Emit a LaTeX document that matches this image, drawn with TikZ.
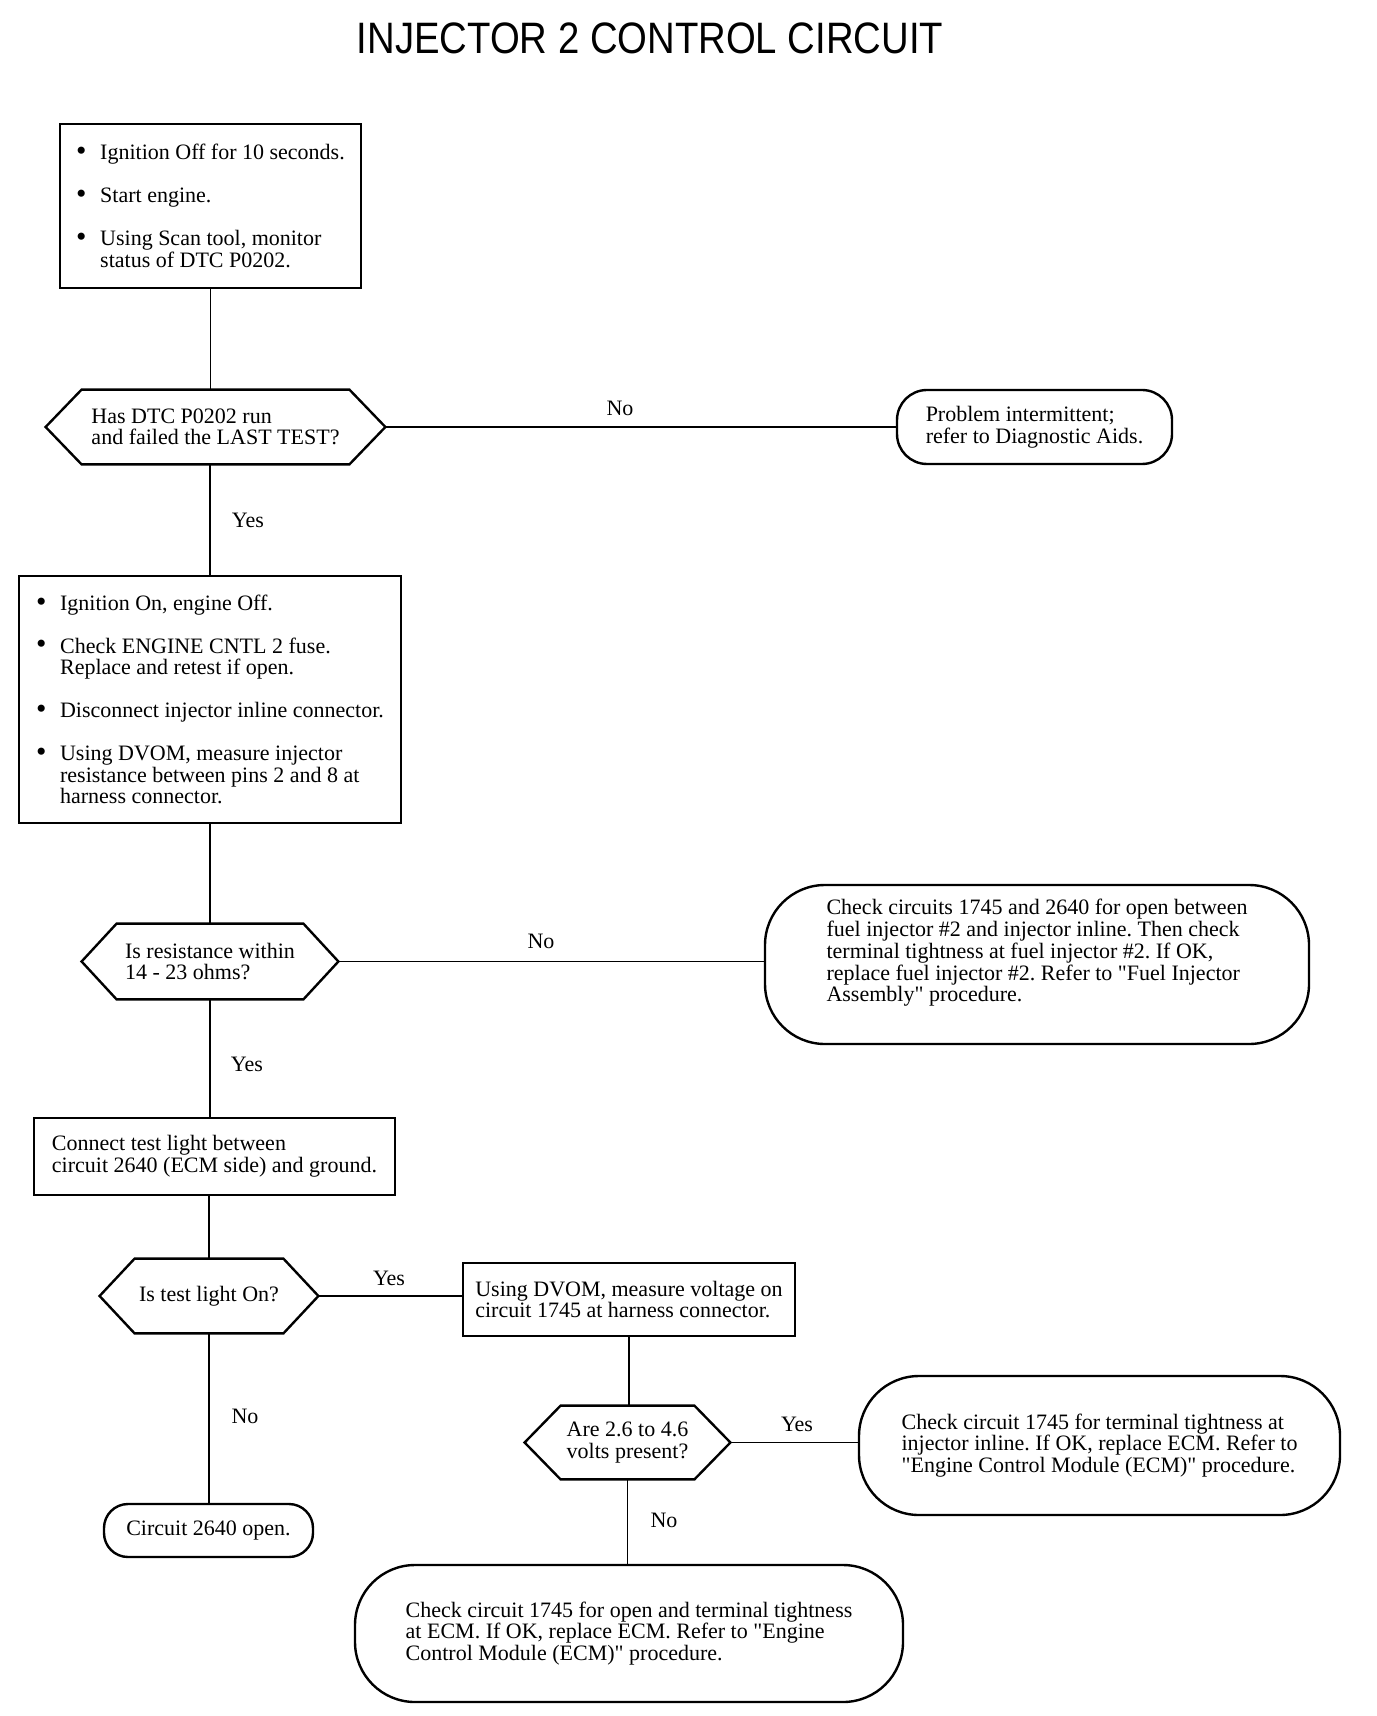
\documentclass[tikz,border=0pt]{standalone}
\usepackage{fontspec}
\usepackage{graphicx}
\setmainfont{Liberation Serif}[Ligatures=TeXOff]
\newfontfamily\titlefont{Liberation Sans}
\newcommand\mybul{\makebox[12pt][l]{\raisebox{-0.3pt}{\scalebox{1.35}{\textbullet}}}}
\newcommand\mybulind{\hspace*{12pt}}
\newcommand\hexshape[2]{\draw[shapeline] (#1.west) -- ([xshift=#2]#1.north west) -- ([xshift=-#2]#1.north east) -- (#1.east) -- ([xshift=-#2]#1.south east) -- ([xshift=#2]#1.south west) -- cycle;}
\frenchspacing
\begin{document}
\begin{tikzpicture}[x=0.5pt,y=-0.5pt,
  font=\fontsize{11}{10.8}\selectfont\frenchspacing,
  shapeline/.style={line width=1.2pt, line join=miter},
  box/.style={draw, shapeline, rectangle, inner sep=0pt, align=left},
  rbox/.style={box},
  dec/.style={rectangle, inner sep=0pt, align=left},
  conn/.style={line width=0.6pt},
  lab/.style={inner sep=0pt}]
\useasboundingbox (0,0) rectangle (1376,1716);
\fill[white] (0,0) rectangle (1376,1716);

\node[font=\titlefont\fontsize{22}{24}\selectfont] (title) at (650,38) {\scalebox{0.87}[1]{INJECTOR 2 CONTROL CIRCUIT}};

\node[box, minimum width=150.5pt, minimum height=82pt] (b1) at (210.5,206) {%
\mybul Ignition Off for 10 seconds.\\[10.6pt]
\mybul Start engine.\\[10.6pt]
\mybul Using Scan tool, monitor\\
\mybulind status of DTC P0202.};

\node[dec, minimum width=169.5pt, minimum height=37pt] (d1) at (215.5,427) {Has DTC P0202 run\\and failed the LAST TEST?};
\hexshape{d1}{18pt}

\node[rbox, rounded corners=15pt, minimum width=137.5pt, minimum height=37pt] (r1) at (1034.5,427) {Problem intermittent;\\refer to Diagnostic Aids.};

\node[box, minimum width=191pt, minimum height=123.5pt] (b2) at (210,699.5) {%
\mybul Ignition On, engine Off.\\[10.6pt]
\mybul Check ENGINE CNTL 2 fuse.\\
\mybulind Replace and retest if open.\\[10.6pt]
\mybul Disconnect injector inline connector.\\[10.6pt]
\mybul Using DVOM, measure injector\\
\mybulind resistance between pins 2 and 8 at\\
\mybulind harness connector.};

\node[dec, minimum width=128pt, minimum height=37.5pt] (d2) at (210,961.5) {Is resistance within\\14 - 23 ohms?};
\hexshape{d2}{17.5pt}

\node[rbox, rounded corners=30pt, minimum width=272pt, minimum height=79.5pt] (r2) at (1037,964.5) {\raisebox{5.5pt}[\height][\depth]{\begin{tabular}{@{}l@{}}Check circuits 1745 and 2640 for open between\\fuel injector \#2 and injector inline. Then check\\terminal tightness at fuel injector \#2. If OK,\\replace fuel injector \#2. Refer to "Fuel Injector\\Assembly" procedure.\end{tabular}}};

\node[box, minimum width=180.5pt, minimum height=38.5pt] (b3) at (214.5,1156.5) {Connect test light between\\circuit 2640 (ECM side) and ground.};

\node[dec, minimum width=109pt, minimum height=37pt] (d3) at (209,1296) {Is test light On?};
\hexshape{d3}{17.5pt}

\node[box, minimum width=166pt, minimum height=36.5pt] (b4) at (629,1299.5) {Using DVOM, measure voltage on\\circuit 1745 at harness connector.};

\node[rbox, rounded corners=12pt, minimum width=104.5pt, minimum height=26.5pt] (r5) at (208.5,1530.5) {Circuit 2640 open.};

\node[dec, minimum width=102.5pt, minimum height=36.5pt] (d4) at (627.5,1442.5) {Are 2.6 to 4.6\\volts present?};
\hexshape{d4}{18pt}

\node[rbox, rounded corners=30pt, minimum width=240.5pt, minimum height=69.5pt] (r3) at (1099.5,1445.5) {Check circuit 1745 for terminal tightness at\\injector inline. If OK, replace ECM. Refer to\\"Engine Control Module (ECM)" procedure.};

\node[rbox, rounded corners=30pt, minimum width=274pt, minimum height=68.5pt] (r4) at (629,1633.5) {Check circuit 1745 for open and terminal tightness\\at ECM. If OK, replace ECM. Refer to "Engine\\Control Module (ECM)" procedure.};

% connectors
\draw[conn] (b1.south) -- (b1.south |- d1.north);
\draw[conn] (d1.east) -- (r1.west);
\draw[conn] (b2.north |- d1.south) -- (b2.north);
\draw[conn] (b2.south) -- (d2.north);
\draw[conn] (d2.east) -- (d2.east -| r2.west);
\draw[conn] (d2.south) -- (d2.south |- b3.north);
\draw[conn] (d3.north |- b3.south) -- (d3.north);
\draw[conn] (d3.east) -- (d3.east -| b4.west);
\draw[conn] (d3.south) -- (d3.south |- r5.north);
\draw[conn] (b4.south) -- (b4.south |- d4.north);
\draw[conn] (d4.east) -- (d4.east -| r3.west);
\draw[conn] (d4.south) -- (d4.south |- r4.north);

% labels
\node[lab] (l1) at (620,408) {No};
\node[lab] (l2) at (248,520) {Yes};
\node[lab] (l3) at (541,941) {No};
\node[lab] (l4) at (247,1064) {Yes};
\node[lab] (l5) at (389,1278) {Yes};
\node[lab] (l6) at (245,1416) {No};
\node[lab] (l7) at (797,1424) {Yes};
\node[lab] (l8) at (664,1520) {No};
\end{tikzpicture}
\end{document}
